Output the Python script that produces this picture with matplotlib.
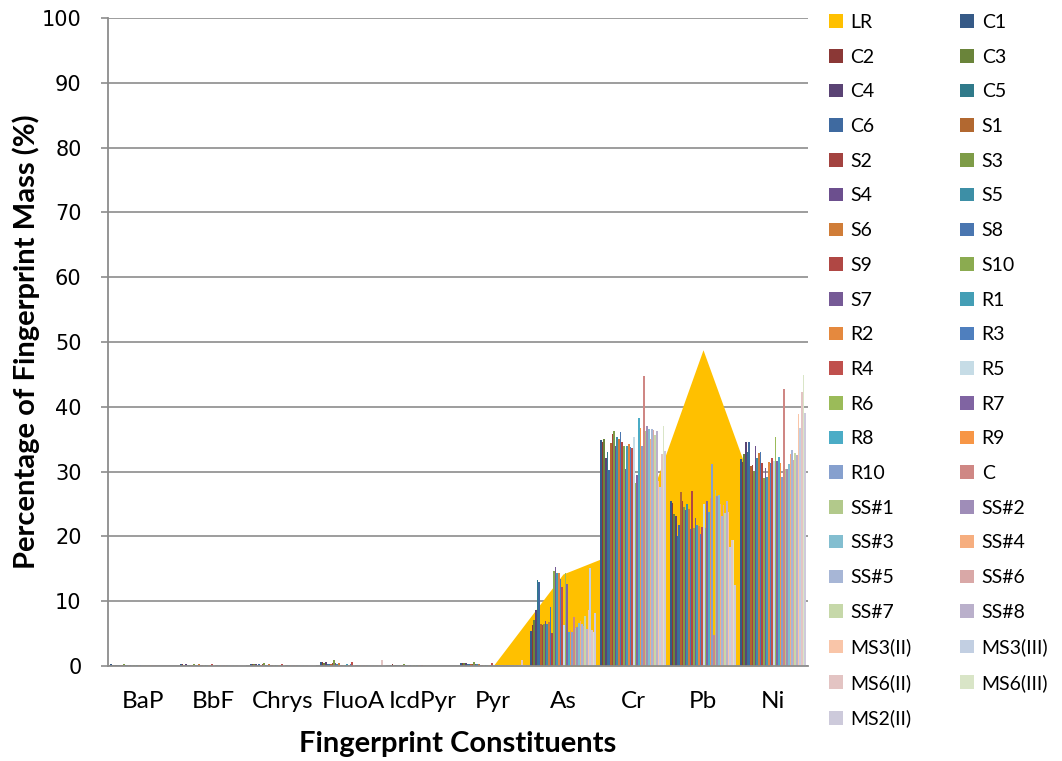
import matplotlib
matplotlib.use('Agg')
import matplotlib.pyplot as plt
import numpy as np
from matplotlib.patches import Patch

categories = ['BaP', 'BbF', 'Chrys', 'FluoA', 'IcdPyr', 'Pyr', 'As', 'Cr', 'Pb', 'Ni']

series_names = ['C1', 'C2', 'C3', 'C4', 'C5', 'C6',
                'S1', 'S2', 'S3', 'S4', 'S5', 'S6', 'S8', 'S9', 'S10', 'S7',
                'R1', 'R2', 'R3', 'R4', 'R5', 'R6', 'R7', 'R8', 'R9', 'R10',
                'C', 'SS#1', 'SS#2', 'SS#3', 'SS#4', 'SS#5', 'SS#6', 'SS#7', 'SS#8',
                'MS3(II)', 'MS3(III)', 'MS6(II)', 'MS6(III)', 'MS2(II)']

series_colors = ['#365A87', '#8B3836', '#6A843A', '#5A4374', '#307A8A', '#3F6AA0',
                 '#B26830', '#A34340', '#7E9C48', '#6C4F8E', '#3D8FA6', '#D07D38',
                 '#4A76B0', '#B04744', '#8BAB50', '#765A96',
                 '#449EB5', '#E5893E', '#4F7FBE', '#C0504D', '#C6DCE6', '#9BBB59',
                 '#8064A2', '#4BACC6', '#F79646', '#86A0CE',
                 '#CF8784', '#B2C98B', '#9F8DB8', '#83BED0', '#F6AE7F', '#A7B6D6',
                 '#D9A8A7', '#C6D8A9', '#BAB0CB',
                 '#F9C5A8', '#C2CFE2', '#E3C4C3', '#D9E5C7', '#CDCADB']

lr_name = 'LR'
lr_color = '#FFC000'
lr_values = [0, 0, 0, 0, 0, 0, 14.2, 18.5, 48.8, 19.0]

# values per category, one entry per series (same order as series_names)
bap = [0.25, 0.20, 0.15, 0.20, 0.10, 0.15, 0.10, 0.10, 0.30, 0.10, 0.15, 0.20, 0.10, 0.05, 0.10, 0.05,
       0.15, 0.10, 0.10, 0.05, 0.05, 0.10, 0.05, 0.05, 0.10, 0.05,
       0.20, 0.05, 0.05, 0.05, 0.05, 0.05, 0.05, 0.05, 0.05, 0.05, 0.05, 0.05, 0.05, 0.05]
bbf = [0.30, 0.35, 0.20, 0.25, 0.15, 0.20, 0.15, 0.20, 0.35, 0.15, 0.20, 0.25, 0.15, 0.10, 0.15, 0.10,
       0.15, 0.10, 0.15, 0.25, 0.10, 0.15, 0.10, 0.10, 0.10, 0.10,
       0.10, 0.10, 0.10, 0.10, 0.10, 0.10, 0.10, 0.10, 0.10, 0.10, 0.10, 0.10, 0.10, 0.10]
chrys = [0.35, 0.30, 0.25, 0.30, 0.20, 0.25, 0.20, 0.25, 0.40, 0.20, 0.20, 0.25, 0.15, 0.10, 0.15, 0.10,
         0.20, 0.15, 0.20, 0.30, 0.10, 0.15, 0.10, 0.10, 0.10, 0.10,
         0.10, 0.10, 0.10, 0.10, 0.10, 0.10, 0.10, 0.10, 0.10, 0.10, 0.10, 0.10, 0.10, 0.10]
fluoa = [0.65, 0.60, 0.50, 0.55, 0.30, 0.35, 0.30, 0.50, 0.85, 0.40, 0.35, 0.45, 0.20, 0.15, 0.20, 0.15,
         0.25, 0.20, 0.30, 0.55, 0.15, 0.20, 0.15, 0.15, 0.15, 0.15,
         0.15, 0.15, 0.15, 0.15, 0.15, 0.15, 0.15, 0.15, 0.15, 0.15, 0.20, 0.95, 0.15, 0.15]
icdpyr = [0.20, 0.25, 0.15, 0.20, 0.10, 0.15, 0.10, 0.15, 0.25, 0.10, 0.10, 0.15, 0.10, 0.05, 0.10, 0.05,
          0.10, 0.10, 0.10, 0.20, 0.05, 0.10, 0.05, 0.05, 0.05, 0.05,
          0.05, 0.05, 0.05, 0.05, 0.05, 0.05, 0.05, 0.05, 0.05, 0.05, 0.05, 0.05, 0.05, 0.05]
pyr = [0.50, 0.45, 0.40, 0.45, 0.25, 0.30, 0.25, 0.35, 0.65, 0.25, 0.30, 0.35, 0.20, 0.15, 0.20, 0.15,
       0.20, 0.15, 0.20, 0.45, 0.10, 0.15, 0.10, 0.10, 0.10, 0.10,
       0.10, 0.10, 0.10, 0.10, 0.10, 0.10, 0.10, 0.10, 0.10, 0.10, 0.10, 0.90, 0.10, 0.10]
as_ = [5.4, 6.3, 7.1, 8.7, 13.3, 13.0, 6.5, 6.3, 6.5, 6.9, 6.5, 6.8, 9.1, 5.1, 14.6, 15.3,
       14.4, 14.3, 13.5, 12.2, 6.4, 14.3, 12.6, 5.2, 5.5, 5.3,
       7.5, 5.9, 6.0, 6.6, 6.9, 6.5, 6.2, 7.7, 5.7, 8.6, 15.1, 5.6, 5.3, 8.2]
cr = [34.8, 34.6, 35.1, 32.1, 33.0, 30.2, 34.4, 35.8, 36.3, 34.0, 35.4, 35.1, 36.1, 34.6, 33.9, 30.4,
      33.9, 34.3, 33.8, 33.6, 35.3, 28.3, 29.5, 38.2, 36.8, 34.0,
      44.8, 36.2, 37.0, 36.5, 35.1, 36.6, 36.4, 35.6, 36.2, 28.5, 27.7, 32.7, 37.0, 33.2]
pb = [25.4, 25.1, 23.5, 23.2, 20.0, 21.8, 26.9, 25.5, 24.6, 24.0, 25.0, 24.2, 21.1, 27.0, 21.3, 22.9,
      21.8, 21.6, 20.4, 21.4, 25.0, 21.3, 25.4, 23.7, 26.0, 31.2,
      4.8, 27.2, 26.2, 26.4, 25.0, 23.1, 24.9, 23.6, 25.4, 23.8, 18.4, 19.5, 19.4, 12.5]
ni = [32.0, 31.5, 32.7, 34.6, 33.0, 34.6, 30.8, 31.0, 30.1, 33.9, 32.1, 32.9, 33.1, 31.3, 29.0, 30.5,
      29.1, 31.5, 31.4, 32.1, 31.6, 35.4, 31.6, 32.2, 31.4, 29.1,
      42.8, 30.4, 30.4, 31.1, 32.7, 33.4, 31.8, 32.9, 32.5, 38.9, 36.8, 42.3, 44.9, 39.1]

values = np.array([bap, bbf, chrys, fluoa, icdpyr, pyr, as_, cr, pb, ni])  # (10, 40)

fig = plt.figure(figsize=(10.62, 7.61), dpi=100)
ax = fig.add_axes([108 / 1062, 1 - 666 / 761, 700 / 1062, 648 / 761])

x = np.arange(len(categories))
n = len(series_names)
group = 0.945
w = group / n

ax.fill_between(x, lr_values, 0, color=lr_color, linewidth=0, zorder=1)

for i, (name, col) in enumerate(zip(series_names, series_colors)):
    xs = x - group / 2 + (i + 0.5) * w
    ax.bar(xs, values[:, i], width=w, color=col, linewidth=0, zorder=2)

ax.set_xlim(-0.5, len(categories) - 0.5)
ax.set_ylim(0, 100)
ax.set_yticks(np.arange(0, 101, 10))
ax.set_xticks(x)
ax.set_xticklabels(categories, fontfamily='Lato', fontsize=17.5)
for lab in ax.get_yticklabels():
    lab.set_fontfamily('DejaVu Sans')
    lab.set_fontsize(15)

ax.yaxis.grid(True, color='#8C8C8C', linewidth=1.2, zorder=0)
ax.set_axisbelow(True)
for s in ['top', 'right']:
    ax.spines[s].set_visible(False)
for s in ['left', 'bottom']:
    ax.spines[s].set_color('#8C8C8C')
    ax.spines[s].set_linewidth(1.3)
ax.tick_params(axis='y', length=5, width=1.2, color='#8C8C8C', pad=14)
ax.tick_params(axis='x', length=0, pad=18)

ax.set_ylabel('Percentage of Fingerprint Mass (%)', fontfamily='Lato', fontweight='bold', fontsize=21)
ax.yaxis.set_label_coords(-0.097, 0.5)
ax.set_xlabel('Fingerprint Constituents', fontfamily='Lato', fontweight='bold', fontsize=21)
ax.xaxis.set_label_coords(0.5, -0.101)

handles = [Patch(facecolor=lr_color)] + [Patch(facecolor=c) for c in series_colors]
labels = [lr_name] + series_names
order = list(range(0, len(labels), 2)) + list(range(1, len(labels), 2))
leg = fig.legend([handles[k] for k in order], [labels[k] for k in order], ncol=2,
                 loc='upper left', bbox_to_anchor=(829 / 1062, 1 - 14 / 761), frameon=False,
                 prop={'family': 'Lato', 'size': 14}, handlelength=0.7, handleheight=0.7,
                 handletextpad=0.4, labelspacing=0.91, columnspacing=2.5, borderpad=0,
                 borderaxespad=0)

fig.savefig('out.png', dpi=100)
